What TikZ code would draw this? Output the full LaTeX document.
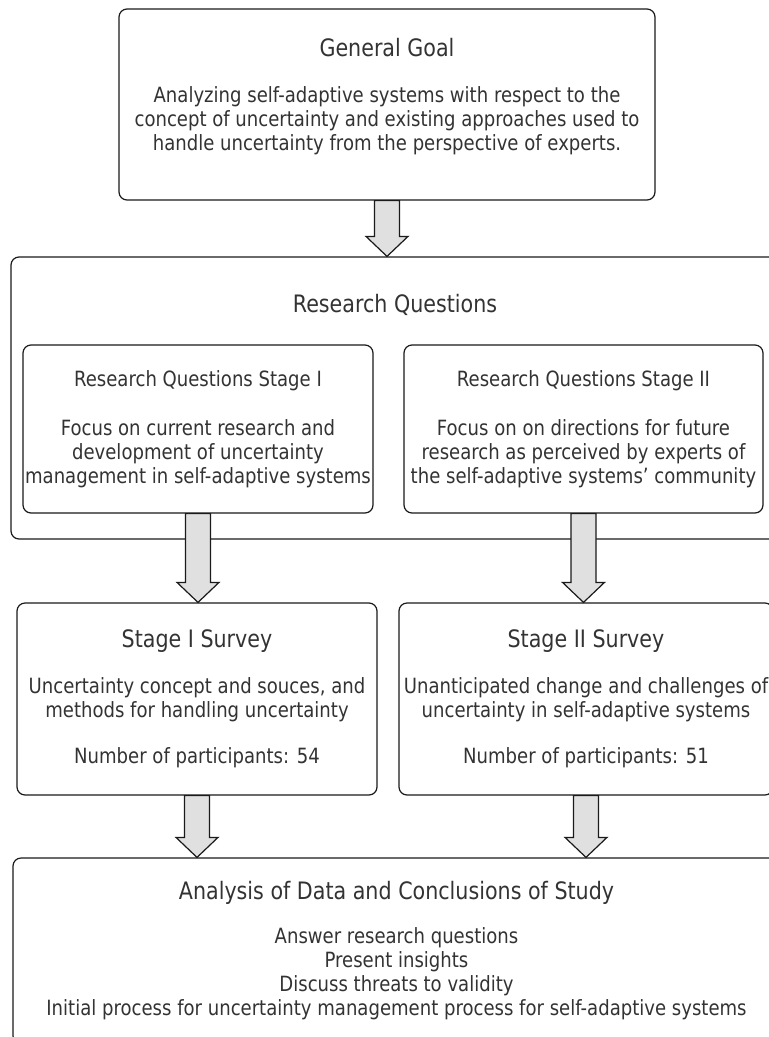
\documentclass[tikz,border=0pt]{standalone}
\usepackage{fontspec}
\setmainfont[FakeStretch=0.86]{DejaVu Sans}
\usetikzlibrary{calc,positioning}
\definecolor{boxline}{HTML}{1A1A1A}
\definecolor{textgray}{HTML}{333333}
\definecolor{arrowfill}{HTML}{E0E0E0}

\newcommand{\boxbody}{\fontsize{21}{24}\selectfont}
\newcommand{\boxtitle}{\fontsize{24}{24}\selectfont}

% block arrow: #1 = start point, #2 = tip
\newcommand{\blockarrow}[2]{%
  \draw[blockarr] ($(#1)+(-12.5,0)$) -- ($(#2)+(-12.5,-20)$) -- ($(#2)+(-21,-20)$)
    -- (#2) -- ($(#2)+(21,-20)$) -- ($(#2)+(12.5,-20)$) -- ($(#1)+(12.5,0)$) -- cycle;}

\begin{document}
\begin{tikzpicture}[x=1pt,y=-1pt,
  every node/.style={text=textgray},
  box/.style={draw=boxline,line width=1.2pt,rounded corners=8pt,fill=white,
    align=center,font=\boxbody,inner sep=0pt},
  blockarr/.style={draw=boxline,fill=arrowfill,line width=1.2pt,line join=miter}
]

% ---- canvas ----
\useasboundingbox (0,0) rectangle (769,1037);
\clip (0,0) rectangle (769,1037);

% ---- general goal ----
\node[box,minimum width=536,minimum height=191] (goal) at (387,104.5)
  {{\boxtitle General Goal}\\[22pt]
   Analyzing self-adaptive systems with respect to the\\
   concept of uncertainty and existing approaches used to\\
   handle uncertainty from the perspective of experts.\\[-3pt]\mbox{}};

% ---- research questions ----
\node[box,minimum width=768,minimum height=282] (rq) at (395,398) {};
\node[font=\boxtitle] (rqtitle) at (395,305) {Research Questions};

\node[box,minimum width=350,minimum height=168] (rq1) at (198,429)
  {Research Questions Stage I\\[25pt]
   Focus on current research and\\
   development of uncertainty\\
   management in self-adaptive systems};
\node[box,minimum width=359,minimum height=168] (rq2) at (583.5,429)
  {Research Questions Stage II\\[25pt]
   Focus on on directions for future\\
   research as perceived by experts of\\
   the self-adaptive systems’ community};

% ---- surveys ----
\node[box,minimum width=360,minimum height=192] (s1) at (197,699)
  {{\boxtitle Stage I Survey}\\[22pt]
   Uncertainty concept and souces, and\\
   methods for handling uncertainty\\[22pt]
   Number of participants: 54};
\node[box,minimum width=374,minimum height=192] (s2) at (586,699)
  {{\boxtitle Stage II Survey}\\[22pt]
   Unanticipated change and challenges of\\
   uncertainty in self-adaptive systems\\[22pt]
   Number of participants: 51};

% ---- analysis ----
\node[box,minimum width=767,minimum height=186] (analysis) at (396.5,951)
  {{\boxtitle Analysis of Data and Conclusions of Study}\\[20pt]
   Answer research questions\\
   Present insights\\
   Discuss threats to validity\\
   Initial process for uncertainty management process for self-adaptive systems};

% ---- block arrows ----
\blockarrow{goal.south}{goal.south |- rq.north}
\blockarrow{rq1.south}{rq1.south |- s1.north}
\blockarrow{rq2.south}{rq2.south |- s2.north}
\blockarrow{s1.south}{s1.south |- analysis.north}
\blockarrow{s2.south}{s2.south |- analysis.north}

\end{tikzpicture}
\end{document}
